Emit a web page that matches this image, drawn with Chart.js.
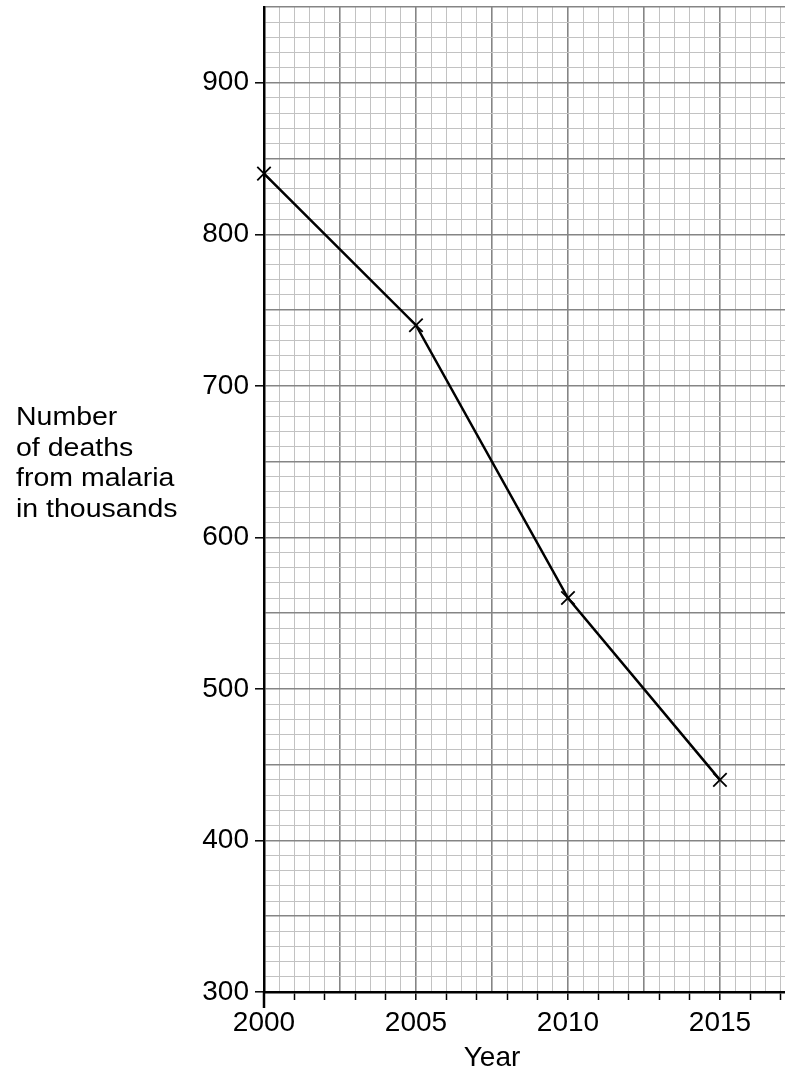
<!DOCTYPE html>
<html>
<head>
<meta charset="utf-8">
<script src="https://cdn.jsdelivr.net/npm/chart.js@4"></script>
<style>
  html, body { margin: 0; padding: 0; background: #fff; }
  #wrap { position: relative; width: 785px; height: 1071px; overflow: hidden; }
  canvas { position: absolute; left: 0; top: 0; }
  .lbl { position: absolute; font-family: "Liberation Sans", Arial, sans-serif; color: #000; white-space: nowrap; }
  #ylab { left: 16px; top: 401px; font-size: 25px; line-height: 30.5px; transform: scaleX(1.14); transform-origin: left top; }
  #xlab { left: 492px; top: 1042px; font-size: 28px; line-height: 30px; transform: translateX(-50%); }
</style>
</head>
<body>
<div id="wrap">
  <canvas id="c" width="785" height="1071"></canvas>
  <div id="ylab" class="lbl">Number<br>of deaths<br>from malaria<br>in thousands</div>
  <div id="xlab" class="lbl">Year</div>
</div>
<script>
const years = [2000, 2005, 2010, 2015];
const deaths = [840, 740, 560, 440];
const xTickLabels = [2000, 2005, 2010, 2015];
const yTickLabels = [300, 400, 500, 600, 700, 800, 900];

const MINOR = '#c2c2c2';
const MAJOR = '#858585';

const axisExtend = {
  id: 'axisExtend',
  afterDraw(chart) {
    const x = chart.scales.x, y = chart.scales.y;
    const ctx = chart.ctx;
    const px = x.getPixelForValue(years[0]);
    ctx.save();
    ctx.strokeStyle = '#000';
    ctx.lineWidth = 2.5;
    ctx.beginPath();
    ctx.moveTo(px, y.bottom);
    ctx.lineTo(px, y.bottom + 16);
    ctx.stroke();
    ctx.restore();
  }
};

new Chart(document.getElementById('c'), {
  type: 'line',
  data: {
    datasets: [{
      data: years.map((yr, i) => ({ x: yr, y: deaths[i] })),
      borderColor: '#000',
      borderWidth: 2.5,
      tension: 0,
      fill: false,
      clip: false,
      pointStyle: 'crossRot',
      pointRadius: 9.5,
      pointBorderWidth: 1.8,
      pointBorderColor: '#000',
      pointBackgroundColor: '#000'
    }]
  },
  options: {
    responsive: false,
    animation: false,
    devicePixelRatio: 1,
    layout: { autoPadding: false, padding: { top: 7, right: 0, left: 0, bottom: 0 } },
    plugins: { legend: { display: false }, tooltip: { enabled: false } },
    scales: {
      x: {
        type: 'linear',
        min: 2000,
        max: 2017.14,
        afterFit(s) { s.height = 79; s.paddingLeft = 0; s.paddingRight = 0; },
        border: { display: true, color: '#000', width: 2.5 },
        grid: {
          color: c => (c.tick && Math.abs(c.tick.value / 2.5 - Math.round(c.tick.value / 2.5)) < 1e-9) ? MAJOR : MINOR,
          lineWidth: c => (c.tick && Math.abs(c.tick.value / 2.5 - Math.round(c.tick.value / 2.5)) < 1e-9) ? 1.6 : 1,
          tickColor: c => (c.tick && Number.isInteger(c.tick.value)) ? '#000' : 'rgba(0,0,0,0)',
          tickLength: 8,
          tickWidth: 1.5,
          drawTicks: true
        },
        ticks: {
          stepSize: 0.5,
          maxTicksLimit: 1000,
          autoSkip: false,
          includeBounds: false,
          maxRotation: 0,
          minRotation: 0,
          padding: 6,
          color: '#000',
          font: { family: '"Liberation Sans", Arial, sans-serif', size: 28 },
          callback: v => xTickLabels.includes(v) ? String(v) : ''
        }
      },
      y: {
        type: 'linear',
        min: 300,
        max: 950,
        afterFit(s) { s.width = 264; s.paddingTop = 0; s.paddingBottom = 0; },
        border: { display: true, color: '#000', width: 2.5 },
        grid: {
          color: c => (c.tick && c.tick.value % 50 === 0) ? MAJOR : MINOR,
          lineWidth: c => (c.tick && c.tick.value % 50 === 0) ? 1.6 : 1,
          tickColor: c => (c.tick && yTickLabels.includes(c.tick.value)) ? '#000' : 'rgba(0,0,0,0)',
          tickLength: 9,
          tickWidth: 1.5,
          drawTicks: true
        },
        ticks: {
          stepSize: 10,
          maxTicksLimit: 1000,
          autoSkip: false,
          padding: 6,
          color: '#000',
          font: { family: '"Liberation Sans", Arial, sans-serif', size: 28 },
          callback: v => yTickLabels.includes(v) ? String(v) : ''
        }
      }
    }
  },
  plugins: [axisExtend]
});
</script>
</body>
</html>
